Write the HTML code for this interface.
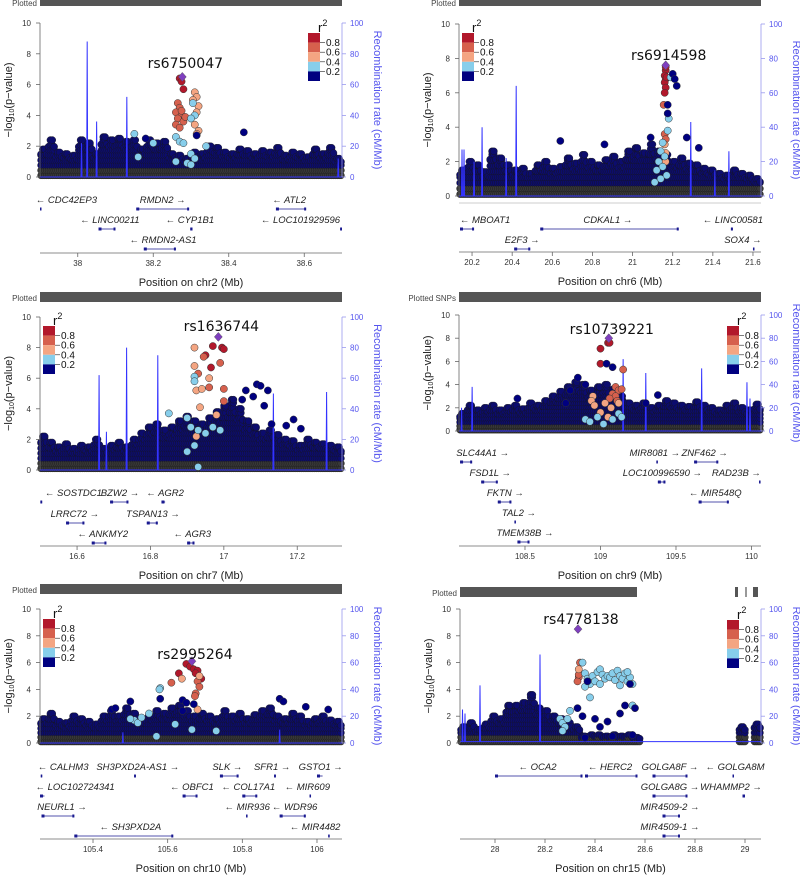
<!DOCTYPE html>
<html><head><meta charset="utf-8">
<style>
html,body{margin:0;padding:0;background:#fff;}
svg{display:block;font-family:"Liberation Sans",sans-serif;}
</style></head>
<body>
<svg id="fig" width="800" height="875" viewBox="0 0 800 875" xmlns="http://www.w3.org/2000/svg"></svg>
<script>
// ---------- Panel 1 data (chr2) ----------
const p1Ticks=[38.0,38.2,38.4,38.6];
const p1Bg=[1.8,2.4,1.6,1.5,1.4,2.4,2.2,1.5,2.6,2.4,2.5,2.3,2.4,1.8,2.4,2.2,2.3,1.5,1.4,1.2,1.6,1.5,2.0,1.9,1.6,1.5,1.8,1.7,1.5,1.7,1.6,1.9,1.4,1.6,1.5,1.3,1.8,1.5,1.9,1.2];
const p1Hits=[[38.27,6.4,4],[38.275,6.2,4],[38.28,5.7,4],
[38.265,4.8,3],[38.27,4.5,3],[38.26,4.2,3],[38.275,4.0,3],[38.265,3.8,3],[38.28,3.6,3],[38.26,3.4,3],[38.27,3.2,3],[38.275,4.3,3],[38.285,3.9,3],
[38.31,5.5,2],[38.315,5.2,2],[38.32,4.6,2],[38.315,4.2,2],[38.31,3.4,2],[38.32,3.0,2],[38.315,2.8,2],[38.305,5.0,2],
[38.305,4.8,1],[38.31,4.0,1],[38.3,3.8,1],[38.26,2.6,1],[38.27,2.3,1],[38.28,2.2,1],[38.15,2.8,1],[38.2,2.2,1],[38.3,1.5,1],[38.31,1.2,1],[38.29,0.9,1],[38.16,1.3,1],[38.34,2.0,1],[38.26,1.0,1],[38.3,0.8,1],
[38.44,2.9,0],[38.315,2.7,0],[38.18,2.5,0]];
const p1Recomb=[[38.01,22],[38.025,88],[38.05,36],[38.13,52],[38.69,12]];
const p1Genes=[["← CDC42EP3",37.97,37.9,37.902,0],["RMDN2 →",38.225,38.155,38.295,0],["← ATL2",38.56,38.525,38.605,0],
["← LINC00211",38.085,38.055,38.1,1],["← CYP1B1",38.297,38.298,38.304,1],["← LOC101929596",38.59,38.695,38.7,1],
["← RMDN2-AS1",38.226,38.175,38.26,2]];
const p1Lead=["rs6750047",38.277,6.5];

// ---------- Panel 2 data (chr6) ----------
const p2Ticks=[20.2,20.4,20.6,20.8,21,21.2,21.4,21.6];
const p2Bg=[1.5,2.0,1.8,1.4,2.6,2.2,1.8,1.5,1.6,1.3,1.8,2.0,1.6,1.7,2.2,1.9,2.4,2.0,1.8,2.1,2.3,2.0,2.6,2.8,2.5,3.0,2.6,2.4,2.0,2.2,1.9,1.8,1.6,1.5,1.3,1.2,1.5,1.3,1.2,1.0];
const p2Hits=[[21.165,7.3,4],[21.16,7.0,4],[21.165,6.8,4],[21.16,6.6,4],[21.165,6.3,4],[21.16,6.0,4],[21.17,6.9,4],[21.165,7.5,4],
[21.155,5.3,3],[21.16,3.6,3],[21.165,3.3,3],
[21.165,2.5,2],[21.165,2.0,2],[21.16,3.0,2],
[21.15,3.1,1],[21.14,2.6,1],[21.16,2.3,1],[21.13,2.0,1],[21.15,1.7,1],[21.12,1.5,1],[21.17,1.2,1],[21.14,1.0,1],[21.11,0.8,1],[21.18,4.5,1],[21.19,6.9,1],[21.175,3.8,1],
[21.2,7.1,0],[21.21,6.8,0],[21.22,6.4,0],[21.175,5.3,0],[21.175,4.8,0],[21.09,3.4,0],[21.27,3.4,0],[20.64,3.2,0],[20.86,3.0,0],[21.33,2.8,0]];
const p2Recomb=[[20.15,27],[20.16,27],[20.21,20],[20.25,40],[20.37,22],[20.42,64],[21.29,43],[21.41,15],[21.48,26]];
const p2Genes=[["← MBOAT1",20.265,20.14,20.21,0],["CDKAL1 →",20.877,20.54,21.23,0],["← LINC00581",21.5,21.49,21.5,0],
["E2F3 →",20.45,20.41,20.49,1],["SOX4 →",21.55,21.6,21.605,1]];
const p2Lead=["rs6914598",21.165,7.6];

// ---------- Panel 3 data (chr7) ----------
const p3Ticks=[16.6,16.8,17.0,17.2];
const p3Bg=[2.2,1.8,1.5,1.7,1.4,1.6,1.5,2.0,1.4,1.6,1.8,1.5,2.0,2.4,2.8,3.0,2.6,2.8,3.2,3.5,3.2,3.0,3.4,3.8,4.2,4.6,4.0,3.2,2.8,2.4,2.6,2.3,2.0,1.9,1.6,2.0,1.8,1.7,1.6,1.5];
const p3Hits=[[16.97,8.1,4],[16.995,8.0,4],[17.0,7.9,4],[16.965,6.7,4],[16.95,7.5,4],
[16.945,7.4,3],[16.93,6.3,3],[16.99,7.0,3],[16.96,5.4,3],[17.0,5.3,3],[17.0,4.5,3],
[16.92,8.0,2],[16.92,6.8,2],[16.925,5.2,2],[16.94,5.3,2],[16.96,6.0,2],[16.935,4.1,2],[16.98,3.6,2],[16.925,2.2,2],
[16.92,6.1,1],[16.92,5.8,1],[16.85,3.7,1],[16.9,3.4,1],[16.91,2.8,1],[16.93,2.6,1],[16.95,2.4,1],[16.97,2.8,1],[16.99,2.6,1],[16.92,1.6,1],[16.9,1.2,1],[16.93,0.2,1],
[17.09,5.6,0],[17.1,5.5,0],[17.12,5.2,0],[17.06,5.2,0],[17.08,4.8,0],[17.05,4.6,0],[17.11,4.2,0],[17.13,3.0,0],[17.17,2.9,0],[17.19,3.3,0],[17.21,2.7,0]];
const p3Recomb=[[16.66,62],[16.68,25],[16.735,80],[16.82,75],[17.135,50],[17.28,51]];
const p3Genes=[["← SOSTDC1",16.59,16.5,16.505,0],["BZW2 →",16.717,16.69,16.74,0],["← AGR2",16.84,16.83,16.84,0],
["LRRC72 →",16.594,16.57,16.62,1],["TSPAN13 →",16.807,16.79,16.82,1],
["← ANKMY2",16.67,16.64,16.68,2],["← AGR3",16.914,16.9,16.92,2]];
const p3Lead=["rs1636744",16.985,8.7];

// ---------- Panel 4 data (chr9) ----------
const p4Ticks=[108.5,109.0,109.5,110.0];
const p4Bg=[1.5,2.2,1.8,2.0,2.2,1.8,2.0,2.2,1.9,2.4,2.2,2.6,3.0,3.4,3.8,4.2,4.0,3.5,3.8,4.0,3.6,3.0,2.4,2.2,2.4,2.0,2.2,2.6,2.4,2.2,2.1,2.5,2.2,2.0,1.8,2.2,2.4,2.0,1.8,2.3];
const p4Hits=[[109.05,7.6,4],[109.06,7.6,4],[109.0,7.1,4],[109.0,5.8,4],
[109.1,3.8,3],[109.12,3.5,3],[109.08,3.2,3],[109.1,3.0,3],[109.14,3.6,3],[109.15,5.3,3],[109.11,2.6,3],[109.06,2.8,3],
[108.95,3.0,2],[108.94,2.6,2],[108.96,2.2,2],[109.03,2.4,2],[109.07,2.0,2],[109.12,2.4,2],[109.0,1.6,2],[109.05,1.2,2],
[108.9,1.0,1],[108.93,0.8,1],[108.98,1.2,1],[109.08,1.0,1],[109.12,1.5,1],[109.14,1.2,1],[109.02,0.6,1],
[108.85,4.6,0],[108.9,4.0,0],[109.04,5.8,0],[109.08,5.5,0],[108.8,3.5,0],[109.3,2.4,0],[109.38,3.1,0],[108.45,2.8,0],[108.77,2.4,0]];
const p4Recomb=[[108.08,20],[108.15,38],[109.15,62],[109.3,50],[109.67,54],[109.97,42],[109.99,28]];
const p4Genes=[["SLC44A1 →",108.22,108.07,108.15,0],["MIR8081 →",109.36,109.37,109.372,0],["ZNF462 →",109.69,109.62,109.78,0],
["FSD1L →",108.27,108.21,108.32,1],["LOC100996590 →",109.41,109.38,109.43,1],["RAD23B →",109.9,110.05,110.06,1],
["FKTN →",108.37,108.32,108.41,2],["← MIR548Q",109.76,109.65,109.85,2],
["TAL2 →",108.46,108.43,108.432,3],["TMEM38B →",108.5,108.45,108.53,4]];
const p4Lead=["rs10739221",109.055,8.0];

// ---------- Panel 5 data (chr10) ----------
const p5Ticks=[105.4,105.6,105.8,106.0];
const p5Bg=[1.8,2.2,1.6,1.5,2.0,1.8,1.6,1.4,2.0,2.4,2.0,2.6,2.2,1.8,2.0,2.4,2.2,2.6,2.8,2.4,2.0,2.2,2.0,1.8,2.4,2.0,2.2,1.8,2.1,2.4,2.6,2.0,1.8,2.2,2.0,1.6,1.8,2.0,1.7,1.6];
const p5Hits=[[105.65,5.9,4],[105.66,5.7,4],[105.67,5.5,4],[105.68,5.4,4],[105.675,5.2,4],[105.69,4.8,4],[105.63,5.2,4],
[105.61,4.5,3],[105.68,4.6,3],[105.685,4.2,3],[105.675,3.7,3],[105.673,3.5,3],
[105.638,4.8,2],[105.685,5.0,2],[105.68,2.5,2],
[105.58,4.1,1],[105.578,4.0,1],[105.55,2.2,1],[105.51,1.7,1],[105.52,1.5,1],[105.53,1.9,1],[105.5,1.8,1],[105.62,1.4,1],[105.57,0.5,1],[105.665,1.0,1],[105.73,0.9,1],
[105.5,3.1,0],[105.45,2.5,0],[105.58,3.3,0],[105.64,3.2,0],[105.65,3.0,0],[105.64,2.4,0],[105.67,2.9,0],[105.9,3.3,0],[105.91,3.1,0],[105.97,2.7,0],[106.03,2.5,0],[105.46,2.6,0]];
const p5Recomb=[[105.48,8],[105.9,10]];
const p5Genes=[["← CALHM3",105.32,105.26,105.262,0],["SH3PXD2A-AS1 →",105.52,105.51,105.515,0],["SLK →",105.76,105.74,105.79,0],["SFR1 →",105.88,105.885,105.89,0],["GSTO1 →",106.01,106.0,106.015,0],
["← LOC102724341",105.352,105.258,105.27,1],["← OBFC1",105.665,105.64,105.68,1],["← COL17A1",105.816,105.8,105.84,1],["← MIR609",105.974,105.98,105.982,1],
["NEURL1 →",105.317,105.262,105.35,2],["← MIR936",105.813,105.81,105.812,2],["← WDR96",105.94,105.9,105.97,2],
["← SH3PXD2A",105.5,105.35,105.615,3],["← MIR4482",105.995,106.03,106.032,3]];
const p5Lead=["rs2995264",105.665,6.1];

// ---------- Panel 6 data (chr15) ----------
const p6Ticks=[28.0,28.2,28.4,28.6,28.8,29.0];
const p6Bg=[1.2,1.5,1.0,1.4,2.0,1.8,2.8,2.8,3.0,3.6,2.6,2.4,2.0,1.8,1.5,1.2,0.5,0.6,0.6,0.5,0.6,0.5,0.6,0.4,0,0,0,0,0,0,0,0,0,0,0,0,0,1.2,0,1.4];
const p6Hits=[[28.335,4.9,3],[28.33,4.6,3],[28.335,5.1,3],[28.34,6.0,3],[28.335,5.5,2],
[28.35,6.0,1],[28.36,5.2,1],[28.37,4.8,1],[28.38,4.4,1],[28.39,5.0,1],[28.4,4.6,1],[28.41,5.3,1],[28.42,5.5,1],[28.43,5.1,1],[28.44,4.8,1],[28.45,5.0,1],[28.46,4.9,1],[28.47,5.2,1],[28.48,4.7,1],[28.49,5.4,1],[28.5,5.0,1],[28.51,4.8,1],[28.52,5.2,1],[28.53,4.6,1],[28.54,4.9,1],[28.55,4.4,1],[28.36,4.2,1],[28.42,4.4,1],[28.5,4.3,1],[28.53,5.3,1],[28.38,3.4,1],[28.26,1.8,1],[28.27,1.5,1],[28.28,1.2,1],[28.29,1.8,1],[28.3,2.4,1],[28.27,0.9,1],[28.55,2.8,1],
[28.37,4.6,0],[28.54,4.4,0],[28.35,2.0,0],[28.4,1.8,0],[28.45,1.6,0],[28.5,2.2,0],[28.52,2.8,0],[28.56,2.6,0],[28.42,1.2,0],[28.47,0.5,0],[28.55,0.6,0],[28.33,2.6,0],[28.36,0.4,0]];
const p6Recomb=[[27.87,25],[27.88,22],[27.94,43],[28.18,66]];
const p6Genes=[["← OCA2",28.17,28.0,28.35,0],["← HERC2",28.46,28.36,28.57,0],["GOLGA8F →",28.70,28.63,28.77,0],["← GOLGA8M",28.96,28.95,28.955,0],
["GOLGA8G →",28.70,28.63,28.77,1],["WHAMMP2 →",28.944,28.99,29.0,1],
["MIR4509-2 →",28.70,28.67,28.74,2],["MIR4509-1 →",28.70,28.67,28.74,3]];
const p6Lead=["rs4778138",28.332,8.5];

const NS="http://www.w3.org/2000/svg";
const svg=document.getElementById('fig');
const COLS=["#000080","#87ceeb","#f4a582","#d6604d","#b2182b"];
function el(tag,attrs,parent,txt){const e=document.createElementNS(NS,tag);for(const k in attrs)e.setAttribute(k,attrs[k]);if(txt!==undefined)e.textContent=txt;(parent||svg).appendChild(e);return e;}

const panels=[
 {id:"p1",x0:40,x1:342,yT:23,yB:177,xmin:37.9,xmax:38.7,ticks:p1Ticks,bg:p1Bg,hits:p1Hits,rec:p1Recomb,genes:p1Genes,lead:p1Lead,chr:"chr2",leadY:68,leg:[308,33],rows:[200,220,240],axisY:253,plotY:0,plotT:"Plotted",base:0,box:false},
 {id:"p2",x0:459,x1:761,yT:24,yB:196,xmin:20.135,xmax:21.64,ticks:p2Ticks,bg:p2Bg,hits:p2Hits,rec:p2Recomb,genes:p2Genes,lead:p2Lead,chr:"chr6",leadY:60,leg:[462,33],rows:[220,240],axisY:252,plotY:0,plotT:"Plotted",base:0,box:true},
 {id:"p3",x0:40,x1:342,yT:317,yB:470,xmin:16.499,xmax:17.322,ticks:p3Ticks,bg:p3Bg,hits:p3Hits,rec:p3Recomb,genes:p3Genes,lead:p3Lead,chr:"chr7",leadY:331,leg:[43,326],rows:[493,514,534],axisY:546,plotY:292,plotT:"Plotted",base:0,box:false},
 {id:"p4",x0:459,x1:761,yT:315,yB:431,xmin:108.063,xmax:110.063,ticks:p4Ticks,bg:p4Bg,hits:p4Hits,rec:p4Recomb,genes:p4Genes,lead:p4Lead,chr:"chr9",leadY:334,leg:[727,326],rows:[453,473,493,513,533],axisY:546,plotY:292,plotT:"Plotted SNPs",base:0,box:false},
 {id:"p5",x0:40,x1:342,yT:609,yB:743,xmin:105.258,xmax:106.067,ticks:p5Ticks,bg:p5Bg,hits:p5Hits,rec:p5Recomb,genes:p5Genes,lead:p5Lead,chr:"chr10",leadY:659,leg:[43,619],rows:[767,787,807,827],axisY:839,plotY:584,plotT:"Plotted",base:0,box:false},
 {id:"p6",x0:460,x1:761,yT:609,yB:743,xmin:27.86,xmax:29.064,ticks:p6Ticks,bg:p6Bg,hits:p6Hits,rec:p6Recomb,genes:p6Genes,lead:p6Lead,chr:"chr15",leadY:624,leg:[727,620],rows:[767,787,807,827],axisY:839,plotY:587,plotT:"Plotted",base:1,box:false}
];

panels.forEach(P=>{
  const g=el('g',{});
  
  
  const sx=p=>P.x0+(p-P.xmin)/(P.xmax-P.xmin)*(P.x1-P.x0);
  const sy=v=>P.yB-v/10*(P.yB-P.yT);
  const sr=r=>P.yB-r/100*(P.yB-P.yT);
  let pb;
  if(P.id==="p6"){
    pb=el('g',{},g);
    el('rect',{x:P.x0,y:P.plotY,width:177,height:10,fill:"#555"},pb);
    el('rect',{x:735,y:P.plotY,width:3,height:10,fill:"#555"},pb);
    el('rect',{x:745,y:P.plotY,width:2,height:10,fill:"#999"},pb);
    el('rect',{x:753,y:P.plotY,width:5,height:10,fill:"#555"},pb);
  } else {
    pb=el('rect',{x:P.x0,y:P.plotY,width:P.x1-P.x0,height:P.plotY===0?6:10,fill:"#555"},g);
  }
  
  
  const pt=el('text',{x:P.x0-3,y:P.plotY+(P.plotY===0?6:9),"text-anchor":"end","font-size":8,fill:"#444"},g,P.plotT);
  
  

  // background SNP cloud (circles only, irregular top)
  const bgG=el('g',{},g);
  
  
  const n=P.bg.length, w=(P.x1-P.x0)/n;
  P.bg.forEach((h,i)=>{
    if(h<=0)return;
    const cx=P.x0+i*w;
    for(let k=0;k<4;k++){
      const top=h*(k===1||k===2?1:0.82);
      for(let v=0.1;v<=top;v+=0.33){
        el('circle',{cx:cx+w*(k+0.5)/4,cy:sy(v),r:3.4,fill:v<0.55?"#383838":"#0c0c6e",stroke:"#161616","stroke-width":0.4},bgG);
      }
      el('circle',{cx:cx+w*(k+0.5)/4,cy:sy(top),r:3.5,fill:"#0c0c6e",stroke:"#161616","stroke-width":0.4},bgG);
    }
  });

  const rp=[...P.rec].sort((a,b)=>a[0]-b[0]);
  let d=`M${P.x0},${sr(P.base)}`;
  rp.forEach(r=>{const x=sx(r[0]);d+=` L${x-0.5},${sr(P.base)} L${x},${sr(r[1])} L${x+0.5},${sr(P.base)}`;});
  d+=` L${P.x1},${sr(P.base)}`;
  const rl=el('path',{d:d,fill:"none",stroke:"#3333ff","stroke-width":1},g);
  
  

  const hg=el('g',{},g);
  
  
  P.hits.forEach(h=>{
    const c=el('circle',{cx:sx(h[0]),cy:sy(h[1]),r:3.6,fill:COLS[h[2]],stroke:"#333","stroke-width":0.5},hg);
    
    
  });
  const lx=sx(P.lead[1]), ly=sy(P.lead[2]);
  const ld=el('path',{d:`M${lx},${ly-4.5} L${lx+4},${ly} L${lx},${ly+4.5} L${lx-4},${ly} Z`,fill:"#7f3fbf",stroke:"#555","stroke-width":0.5},g);
  
  
  const lt=el('text',{x:lx+3,y:P.leadY,"text-anchor":"middle","font-size":14,fill:"#111","font-family":"DejaVu Sans, sans-serif"},g,P.lead[0]);
  
  

  const la=el('g',{},g);
  
  
  el('line',{x1:P.x0,y1:P.yT,x2:P.x0,y2:P.yB,stroke:"#666","stroke-width":0.8},la);
  [0,2,4,6,8,10].forEach(v=>{
    el('line',{x1:P.x0-4,y1:sy(v),x2:P.x0,y2:sy(v),stroke:"#666","stroke-width":0.8},la);
    el('text',{x:P.x0-9,y:sy(v)+3,"text-anchor":"end","font-size":8,fill:"#333"},la,String(v));
  });
  const yt=el('text',{transform:`translate(${P.x0-28},${(P.yT+P.yB)/2}) rotate(-90)`,"text-anchor":"middle","font-size":11,fill:"#222"},g);
  
  
  el('tspan',{},yt,"−log");
  el('tspan',{"font-size":7,dy:2},yt,"10");
  el('tspan',{dy:-2},yt,"(p−value)");
  const ra=el('g',{},g);
  
  
  el('line',{x1:P.x1,y1:P.yT,x2:P.x1,y2:P.yB,stroke:"#9999ee","stroke-width":0.8},ra);
  [0,20,40,60,80,100].forEach(v=>{
    el('line',{x1:P.x1,y1:sr(v),x2:P.x1+4,y2:sr(v),stroke:"#9999ee","stroke-width":0.8},ra);
    el('text',{x:P.x1+8,y:sr(v)+3,"font-size":8,fill:"#5555ee"},ra,String(v));
  });
  const rt=el('text',{transform:`translate(${P.x1+32},${(P.yT+P.yB)/2}) rotate(90)`,"text-anchor":"middle","font-size":11,fill:"#5555ee"},g,"Recombination rate (cM/Mb)");
  
  
  if(P.box){el('line',{x1:P.x0,y1:P.yB+7,x2:P.x1,y2:P.yB+7,stroke:"#bbb","stroke-width":0.8},g);}

  const lg=el('g',{},g);
  
  
  const [gx,gy]=P.leg;
  for(let i=0;i<5;i++){
    el('rect',{x:gx,y:gy+i*9.6,width:12,height:9.6,fill:COLS[4-i]},lg);
  }
  ["0.8","0.6","0.4","0.2"].forEach((t,i)=>{
    const yy=gy+(i+1)*9.6;
    el('line',{x1:gx+12,y1:yy,x2:gx+17,y2:yy,stroke:"#222","stroke-width":0.6},lg);
    el('text',{x:gx+18,y:yy+3.5,"font-size":10,fill:"#111"},lg,t);
  });
  const r2=el('text',{x:gx+10,y:gy-1,"font-size":13,fill:"#111"},lg);
  el('tspan',{},r2,"r");
  el('tspan',{"font-size":9,dy:-6},r2,"2");

  const gg=el('g',{},g);
  
  
  P.genes.forEach(ge=>{
    const ry=P.rows[ge[4]];
    const t=el('text',{x:sx(ge[1]),y:ry+3,"text-anchor":"middle","font-size":9.5,"font-style":"italic",fill:"#222"},gg,ge[0]);
    
    
    const a=sx(ge[2]),b=Math.max(sx(ge[3]),a+1.5);
    el('line',{x1:a,y1:ry+9,x2:b,y2:ry+9,stroke:"#1a1a90","stroke-width":0.8},gg);
    el('rect',{x:a,y:ry+7.5,width:Math.min(3,b-a),height:3,fill:"#1a1a90"},gg);
    if(b-a>6)el('rect',{x:b-2,y:ry+7.5,width:2,height:3,fill:"#1a1a90"},gg);
  });

  const xa=el('g',{},g);
  
  
  el('line',{x1:P.x0,y1:P.axisY,x2:P.x1,y2:P.axisY,stroke:"#666","stroke-width":0.8},xa);
  P.ticks.forEach(v=>{
    const x=sx(v);
    el('line',{x1:x,y1:P.axisY,x2:x,y2:P.axisY+4,stroke:"#666","stroke-width":0.8},xa);
    el('text',{x:x,y:P.axisY+13,"text-anchor":"middle","font-size":8,fill:"#333"},xa,String(v));
  });
  const xt=el('text',{x:(P.x0+P.x1)/2,y:P.axisY+33,"text-anchor":"middle","font-size":11,fill:"#222"},g,"Position on "+P.chr+" (Mb)");
  
  
});
</script>
</body></html>
